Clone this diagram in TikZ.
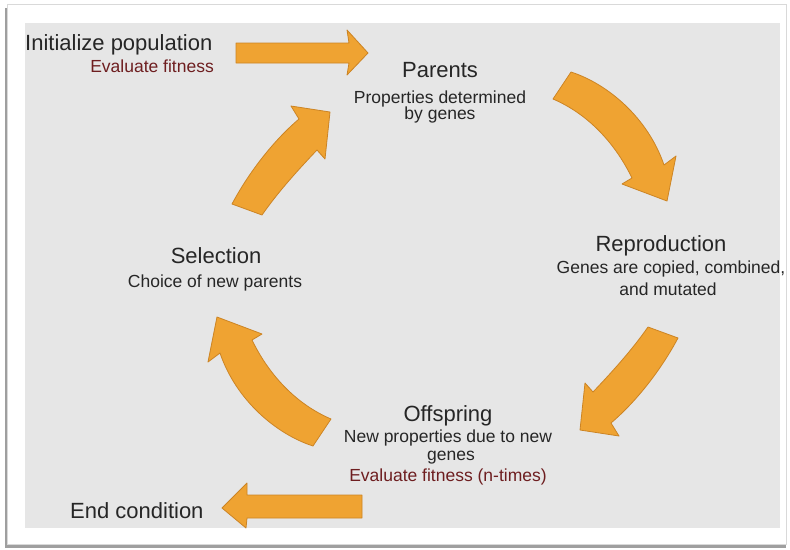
\documentclass[tikz,border=0pt]{standalone}
\usepackage{fontspec}
\setmainfont{Liberation Sans}
\definecolor{bgray}{RGB}{230,230,230}
\definecolor{arrfill}{RGB}{239,163,50}
\definecolor{arrdraw}{RGB}{204,132,36}
\definecolor{txt}{RGB}{38,38,38}
\definecolor{redtxt}{RGB}{110,30,32}
\tikzset{
  blockarrow/.style={fill=arrfill, draw=arrdraw, line width=0.8pt, line join=round},
  bigtxt/.style={inner sep=0pt, text=txt, font=\fontsize{22}{24}\selectfont},
  smalltxt/.style={inner sep=0pt, text=txt, font=\fontsize{17.5}{19}\selectfont},
  redsmall/.style={smalltxt, text=redtxt}
}
\begin{document}
\begin{tikzpicture}[x=1pt,y=-1pt]
\useasboundingbox (0,0) rectangle (790,549);
% frame
\fill[white] (0,0) rectangle (790,549);
\fill[gray!75] (5,8) rectangle (786,548);
\fill[white, draw=gray!30, line width=0.6pt] (7,4) rectangle (786,544);
\fill[bgray] (25,23) rectangle (780,528);

% straight arrow: initialize -> parents
\draw[blockarrow] (236,43) -- (349,43) -- (347,30) -- (368,53) -- (347,75) -- (349,63) -- (236,63) -- cycle;
% straight arrow: -> end condition
\draw[blockarrow] (362,495) -- (247,495) -- (247,483) -- (222,508) -- (246,528) -- (247,518) -- (362,518) -- cycle;

% curved arrow parents -> reproduction
\draw[blockarrow] (553,99) -- (571,72) .. controls (608,84) and (648,118) .. (664,165)
  -- (676,156) -- (667,201) -- (622,184) -- (632,178)
  .. controls (615,143) and (588,114) .. (553,99) -- cycle;
% curved arrow offspring -> selection (point symmetric copy)
\begin{scope}[rotate around={180:(442,259)}]
\draw[blockarrow] (553,99) -- (571,72) .. controls (608,84) and (648,118) .. (664,165)
  -- (676,156) -- (667,201) -- (622,184) -- (632,178)
  .. controls (615,143) and (588,114) .. (553,99) -- cycle;
\end{scope}
% curved arrow reproduction -> offspring
\draw[blockarrow] (648,327) -- (678,338) .. controls (662,368) and (638,400) .. (611,423)
  -- (619,436) -- (580,430) -- (585,383) -- (593,392)
  .. controls (612,372) and (632,350) .. (648,327) -- cycle;
% curved arrow selection -> parents
\begin{scope}[rotate around={180:(455,271)}]
\draw[blockarrow] (648,327) -- (678,338) .. controls (662,368) and (638,400) .. (611,423)
  -- (619,436) -- (580,430) -- (585,383) -- (593,392)
  .. controls (612,372) and (632,350) .. (648,327) -- cycle;
\end{scope}

% texts
\node[bigtxt, anchor=base west] (init) at (25,50) {Initialize population};
\node[redsmall, anchor=base east] (initeval) at (214,72) {Evaluate fitness};

\node[bigtxt, anchor=base] (parents) at (440,77) {Parents};
\node[smalltxt, anchor=base] (parentsA) at (440,103) {Properties determined};
\node[smalltxt, anchor=base] (parentsB) at (440,119) {by genes};

\node[bigtxt, anchor=base] (repro) at (661,251) {Reproduction};
\node[smalltxt, anchor=base] (reproA) at (671,273) {Genes are copied, combined,};
\node[smalltxt, anchor=base] (reproB) at (668,295) {and mutated};

\node[bigtxt, anchor=base] (sel) at (216,263) {Selection};
\node[smalltxt, anchor=base] (selA) at (215,287) {Choice of new parents};

\node[bigtxt, anchor=base] (off) at (448,421) {Offspring};
\node[smalltxt, anchor=base] (offA) at (448,442) {New properties due to new};
\node[smalltxt, anchor=base] (offB) at (451,460) {genes};
\node[redsmall, anchor=base] (offC) at (448,481) {Evaluate fitness (n-times)};

\node[bigtxt, anchor=base west] (endc) at (70,518) {End condition};
\end{tikzpicture}
\end{document}
